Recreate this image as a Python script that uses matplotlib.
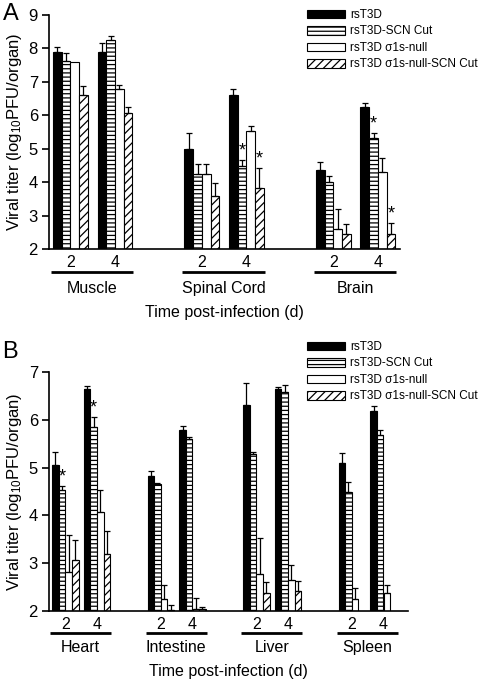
import numpy as np
import matplotlib
matplotlib.use("Agg")
import matplotlib.pyplot as plt
from matplotlib.patches import Patch

plt.rcParams['font.family'] = ['Liberation Sans', 'DejaVu Sans']
plt.rcParams['hatch.linewidth'] = 0.9
plt.rcParams['mathtext.default'] = 'regular'

series = ['rsT3D', 'rsT3D-SCN Cut', 'rsT3D σ1s-null', 'rsT3D σ1s-null-SCN Cut']
days = ['2', '4']

# ---- Panel A ----
organs_a = ['Muscle', 'Spinal Cord', 'Brain']
# values[organ][day] = [s0, s1, s2, s3]
vals_a = [
    [[7.88, 7.63, 7.60, 6.61], [7.88, 8.25, 6.78, 6.06]],
    [[4.98, 4.25, 4.25, 3.60], [6.62, 4.49, 5.53, 3.82]],
    [[4.36, 4.01, 2.59, 2.44], [6.24, 5.31, 4.29, 2.44]],
]
errs_a = [
    [[0.17, 0.24, 0.00, 0.27], [0.29, 0.13, 0.13, 0.18]],
    [[0.48, 0.28, 0.28, 0.37], [0.16, 0.17, 0.16, 0.60]],
    [[0.23, 0.17, 0.60, 0.31], [0.14, 0.15, 0.42, 0.33]],
]
stars_a = [(1, 1, 1), (1, 1, 3), (2, 1, 1), (2, 1, 3)]

# ---- Panel B ----
organs_b = ['Heart', 'Intestine', 'Liver', 'Spleen']
vals_b = [
    [[5.06, 4.54, 2.81, 3.06], [6.64, 5.84, 4.07, 3.19]],
    [[4.82, 4.65, 2.25, 2.02], [5.79, 5.60, 2.05, 2.04]],
    [[6.31, 5.28, 2.77, 2.38], [6.64, 6.59, 2.65, 2.42]],
    [[5.10, 4.49, 2.25, np.nan], [6.19, 5.69, 2.37, np.nan]],
]
errs_b = [
    [[0.26, 0.08, 0.79, 0.43], [0.07, 0.21, 0.47, 0.48]],
    [[0.10, 0.02, 0.29, 0.10], [0.07, 0.05, 0.23, 0.05]],
    [[0.45, 0.04, 0.75, 0.22], [0.05, 0.14, 0.31, 0.21]],
    [[0.21, 0.21, 0.24, 0.0], [0.09, 0.10, 0.17, 0.0]],
]
stars_b = [(0, 0, 1), (0, 1, 1)]

styles = [
    dict(facecolor='black', hatch=None),
    dict(facecolor='white', hatch='----'),
    dict(facecolor='white', hatch=None),
    dict(facecolor='white', hatch='////'),
]

FS = 11.5
fig = plt.figure(figsize=(4.8, 6.8), dpi=100)
W, H = 480.0, 680.0


def make_panel(rect_px, ylim, organs, vals, errs, stars, start0, org_sp, day_sp, bw,
               xmax, ypos, letter, letter_xy, legend_xy):
    l, t, r, b = rect_px
    ax = fig.add_axes([l / W, 1 - b / H, (r - l) / W, (b - t) / H])
    ax.set_xlim(0, xmax)
    ax.set_ylim(*ylim)
    for o in range(len(organs)):
        for d in range(2):
            for s in range(4):
                x = start0 + o * org_sp + d * day_sp + s * bw + bw / 2
                v = vals[o][d][s]
                if np.isnan(v):
                    continue
                st = styles[s]
                ax.bar(x, v - ylim[0], bottom=ylim[0], width=bw, facecolor=st['facecolor'],
                       edgecolor='black', linewidth=0.8, hatch=st['hatch'], zorder=2)
                e = errs[o][d][s]
                if e > 0:
                    ax.errorbar(x, v, yerr=[[0], [e]], fmt='none', ecolor='black',
                                elinewidth=0.9, capsize=2.5, capthick=0.9, zorder=3)
    for (o, d, s) in stars:
        x = start0 + o * org_sp + d * day_sp + s * bw + bw / 2
        top = vals[o][d][s] + errs[o][d][s]
        ax.annotate('*', (x, top), xytext=(0, 0.5), textcoords='offset points',
                    ha='center', va='bottom', fontsize=13)
    # spines
    for sp in ['top', 'right']:
        ax.spines[sp].set_visible(False)
    for sp in ['left', 'bottom']:
        ax.spines[sp].set_linewidth(1.2)
    ax.set_yticks(np.arange(ylim[0], ylim[1] + 1))
    ax.tick_params(axis='y', length=5, width=1.2, labelsize=FS + 0.5, pad=3)
    # x tick labels: days
    centers = []
    labels = []
    for o in range(len(organs)):
        for d in range(2):
            centers.append(start0 + o * org_sp + d * day_sp + 2 * bw)
            labels.append(days[d])
    ax.set_xticks(centers)
    ax.set_xticklabels(labels)
    ax.tick_params(axis='x', length=0, labelsize=FS, pad=4)
    tr = ax.get_xaxis_transform()
    for o, name in enumerate(organs):
        x0 = start0 + o * org_sp - 2
        x1 = start0 + o * org_sp + day_sp + 4 * bw + 1
        ax.plot([x0, x1], [ypos[0], ypos[0]], color='black', lw=2.0, transform=tr,
                clip_on=False, solid_capstyle='butt')
        ax.text((x0 + x1) / 2, ypos[1], name, transform=tr, ha='center', va='center',
                fontsize=FS)
    ax.text(0.5, ypos[2], 'Time post-infection (d)', transform=ax.transAxes,
            ha='center', va='center', fontsize=FS)
    ax.set_ylabel('Viral titer (log$_{10}$PFU/organ)', fontsize=FS + 0.5, labelpad=3)
    fig.text(letter_xy[0] / W, 1 - letter_xy[1] / H, letter, fontsize=17,
             ha='center', va='center')
    handles = [Patch(facecolor=st['facecolor'], edgecolor='black', hatch=st['hatch'],
                     linewidth=0.8) for st in styles]
    fig.legend(handles, series, loc='upper left',
               bbox_to_anchor=(legend_xy[0] / W, 1 - legend_xy[1] / H),
               frameon=False, fontsize=8.5, handlelength=3.2, handleheight=0.75,
               handletextpad=0.45, labelspacing=0.38, borderpad=0, borderaxespad=0)
    return ax


make_panel((49, 15, 400, 249), (2, 9), organs_a, vals_a, errs_a, stars_a,
           4, 131.5, 44.5, 8.7, 351, (-0.098, -0.167, -0.272), 'A', (11, 14), (307, 9))
make_panel((49, 372, 408, 611), (2, 7), organs_b, vals_b, errs_b, stars_b,
           3, 95.5, 31.7, 6.65, 359, (-0.092, -0.151, -0.252), 'B', (10, 352), (307, 341))

fig.savefig('out.png', dpi=100)
